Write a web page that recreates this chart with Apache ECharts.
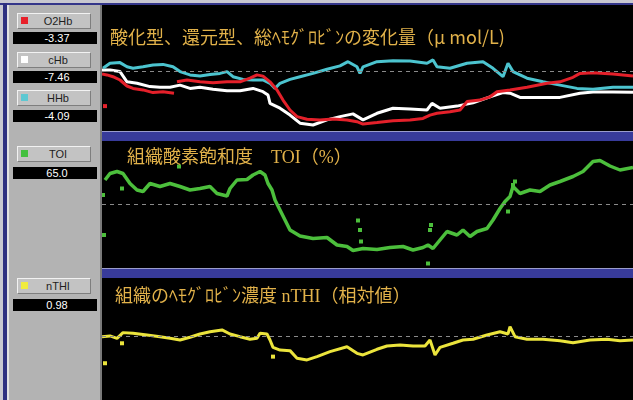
<!DOCTYPE html>
<html>
<head>
<meta charset="utf-8">
<script src="https://cdn.jsdelivr.net/npm/echarts@6/dist/echarts.min.js"></script>
<style>
body { margin: 0; width: 633px; height: 400px; overflow: hidden; position: relative; background: #c8c8d0; font-family: "Liberation Sans", Arial, sans-serif; }
#topline { position: absolute; left: 0; top: 3px; width: 633px; height: 2px; background: #34368a; }
#navy { position: absolute; left: 3px; top: 3px; width: 4px; height: 397px; background: #2e3080; }
#side { position: absolute; left: 7px; top: 5px; width: 95px; height: 395px; background: #b3b3b3; border-left: 2px solid #e2e2e2; border-right: 2px solid #7a7a7a; box-sizing: border-box; }
.btn { position: absolute; left: 17px; width: 74px; height: 16px; background: #c3c3c3; border-top: 1px solid #f2f2f2; border-left: 1px solid #f2f2f2; border-right: 1px solid #7e7e7e; border-bottom: 1px solid #7e7e7e; box-sizing: border-box; font-size: 11px; color: #1e1e1e; text-align: center; line-height: 14px; }
.btn i { position: absolute; left: 3px; top: 3px; width: 7px; height: 7px; }
.btn span { padding-left: 8px; }
.val { position: absolute; left: 13px; width: 84px; height: 12px; background: #000; color: #fff; font-size: 11px; text-align: center; line-height: 12px; padding-left: 4px; box-sizing: border-box; }
#chart { position: absolute; left: 102px; top: 5px; width: 531px; height: 395px; background: #000; }
</style>
</head>
<body>
<div id="topline"></div>
<div id="navy"></div>
<div id="side"></div>
<div class="btn" style="top:13px"><i style="background:#e8202a"></i><span>O2Hb</span></div>
<div class="val" style="top:32px">-3.37</div>
<div class="btn" style="top:52px"><i style="background:#ffffff"></i><span>cHb</span></div>
<div class="val" style="top:71px">-7.46</div>
<div class="btn" style="top:90px"><i style="background:#5ec8d2"></i><span>HHb</span></div>
<div class="val" style="top:110px">-4.09</div>
<div class="btn" style="top:146px"><i style="background:#44c040"></i><span>TOI</span></div>
<div class="val" style="top:167px">65.0</div>
<div class="btn" style="top:278px"><i style="background:#f0ec40"></i><span>nTHI</span></div>
<div class="val" style="top:299px">0.98</div>
<div id="chart"></div>
<script>
// time axis: samples 0..531
var hhbTime = [1, 8, 18, 25, 31, 41, 51, 61, 71, 78, 88, 98, 108, 118, 125, 131, 141, 151, 161, 168, 173, 178, 188, 198, 211, 225, 238, 246, 255, 258, 261, 275, 291, 308, 325, 331, 335, 348, 365, 381, 391, 401, 406, 411, 425, 441, 458, 475, 491, 511, 531];
var hhb = [0.9, 2.6, 2.8, 1.4, 0.9, 1.4, 2.0, 2.2, 1.4, -0.2, -1.3, -1.7, -1.2, -0.8, -0.2, -1.9, -2.8, -3.0, -3.0, -4.1, -5.8, -4.1, -2.8, -1.9, -0.8, 0.6, 1.7, 3.1, 1.4, -0.8, 1.4, 3.1, 3.4, 3.3, 2.6, 3.7, 1.4, 0.9, 2.6, 3.1, 0.9, -1.9, 2.6, -0.2, -2.4, -3.6, -4.7, -5.8, -6.1, -5.4, -5.4];

var o2hbTime = [0, 5, 11, 18, 25, 31, 41, 51, 61, 72, 73, 75, 85, 98, 111, 125, 138, 148, 155, 161, 168, 175, 181, 188, 195, 205, 218, 231, 245, 255, 261, 275, 291, 308, 321, 328, 335, 348, 358, 365, 378, 388, 395, 408, 425, 445, 458, 471, 478, 491, 511, 531];
var o2hb = [-1.0, -1.3, -1.9, -3.0, -5.0, -5.8, -6.3, -7.2, -6.9, -7.4, null, -3.6, -3.0, -3.6, -3.9, -3.6, -3.6, -2.4, -1.3, -1.7, -3.6, -6.3, -9.7, -13.0, -15.2, -16.1, -16.3, -16.0, -16.3, -16.9, -17.7, -17.2, -16.6, -16.3, -15.8, -14.7, -14.1, -13.6, -13.0, -10.2, -9.7, -8.6, -6.9, -6.3, -5.4, -4.1, -3.6, -2.1, -0.8, -0.6, -1.0, -1.7];
var o2hbDotTime = [3];
var o2hbDot = [-11.7];

var chbTime = [0, 8, 18, 25, 35, 48, 58, 68, 78, 88, 98, 111, 125, 138, 151, 161, 166, 168, 178, 188, 198, 211, 225, 238, 251, 261, 275, 291, 308, 325, 330, 338, 355, 371, 388, 401, 408, 418, 438, 458, 478, 491, 511, 531];
var chb = [0.3, 0.3, -0.2, -3.6, -4.1, -5.2, -5.4, -5.4, -4.7, -5.8, -5.4, -6.1, -6.6, -6.6, -5.8, -6.9, -8.0, -10.8, -12.4, -14.7, -17.4, -18.0, -16.3, -15.2, -14.3, -16.3, -14.1, -12.4, -12.7, -13.0, -10.8, -12.4, -11.7, -10.6, -8.6, -7.2, -7.4, -8.8, -8.8, -8.8, -7.4, -7.0, -7.0, -7.1];

var toiTime = [3, 8, 15, 21, 28, 35, 41, 48, 58, 68, 78, 88, 98, 108, 115, 125, 128, 135, 145, 151, 158, 163, 166, 170, 173, 178, 183, 188, 198, 211, 225, 235, 245, 251, 261, 275, 288, 301, 311, 321, 326, 331, 338, 345, 355, 361, 368, 375, 385, 391, 398, 403, 408, 411, 418, 428, 438, 448, 458, 471, 481, 491, 498, 508, 518, 531];
var toi = [64.8, 66.1, 66.5, 66.1, 64.1, 62.8, 62.5, 64.1, 63.5, 64.1, 63.5, 62.8, 63.1, 63.5, 62.1, 61.6, 63.1, 64.8, 64.9, 65.8, 66.5, 65.8, 64.1, 62.8, 60.8, 58.8, 56.8, 54.8, 53.6, 53.1, 53.3, 51.8, 51.5, 50.7, 51.1, 50.9, 51.3, 51.5, 50.8, 51.3, 51.8, 51.1, 52.8, 54.5, 53.8, 54.8, 53.5, 54.5, 55.1, 56.8, 59.1, 60.5, 61.5, 63.5, 62.1, 62.8, 62.5, 63.8, 64.5, 65.5, 66.5, 68.5, 68.7, 67.6, 66.8, 67.3];
var toiDotTime = [1, 2, 20, 77, 256, 258, 259, 326, 328, 329, 406, 411, 413];
var toiDot = [61.8, 53.8, 63.1, 67.5, 56.7, 54.8, 52.5, 48.1, 54.8, 55.8, 58.5, 63.8, 64.5];

var nthiTime = [0, 8, 15, 21, 31, 45, 58, 68, 78, 88, 98, 108, 120, 128, 138, 148, 155, 158, 165, 168, 171, 178, 188, 195, 205, 215, 228, 245, 255, 261, 275, 285, 298, 311, 323, 328, 333, 338, 351, 361, 371, 385, 398, 406, 408, 413, 425, 441, 458, 471, 488, 505, 518, 531];
var nthi = [1.000, 1.005, 0.989, 1.027, 1.023, 1.011, 1.000, 0.989, 0.978, 0.996, 1.018, 1.033, 1.045, 1.018, 1.000, 0.983, 0.989, 1.023, 1.018, 0.978, 0.929, 0.911, 0.907, 0.856, 0.845, 0.867, 0.900, 0.933, 0.889, 0.878, 0.916, 0.938, 0.945, 0.938, 0.938, 0.978, 0.878, 0.929, 0.956, 0.978, 0.983, 1.011, 1.033, 1.018, 1.067, 1.000, 0.983, 0.983, 0.973, 0.960, 0.978, 0.983, 0.973, 0.978];
var nthiDotTime = [3, 20, 171];
var nthiDot = [0.823, 0.956, 0.867];

var baseLines = [0, 60, 1.0];

function zip(t, v) {
    return t.map(function (x, i) {
        return [x, v[i] === null ? '-' : v[i]];
    });
}

function lineSerie(idx, data, color, width) {
    return {
        type: 'line',
        xAxisIndex: idx,
        yAxisIndex: idx,
        data: data,
        showSymbol: false,
        connectNulls: false,
        lineStyle: {color: color, width: width},
        z: 3
    };
}

function dotSerie(idx, data, color) {
    return {
        type: 'scatter',
        xAxisIndex: idx,
        yAxisIndex: idx,
        data: data,
        symbol: 'rect',
        symbolSize: 4,
        itemStyle: {color: color, opacity: 1},
        z: 3
    };
}

function baseLine(idx) {
    return {
        type: 'line',
        xAxisIndex: idx,
        yAxisIndex: idx,
        data: [],
        markLine: {
            silent: true,
            symbol: 'none',
            label: {show: false},
            lineStyle: {color: '#8a8a8a', type: [4, 4], width: 1},
            data: [{yAxis: baseLines[idx]}]
        },
        z: 2
    };
}

var titleStyle = {color: '#e2b24a', fontSize: 18, fontWeight: 'normal'};
var serifFont = '"Liberation Serif", "Noto Sans CJK JP", serif';

var chart = echarts.init(document.getElementById('chart'));
chart.setOption({
    animation: false,
    backgroundColor: '#000',
    title: [
        {text: '酸化型、還元型、総ﾍﾓｸﾞﾛﾋﾞﾝの変化量（μ mol/L)', left: 8, top: 23, padding: 0,
            textStyle: Object.assign({fontFamily: '"Noto Sans CJK JP", sans-serif'}, titleStyle)},
        {text: '組織酸素飽和度　TOI（%）', left: 25, top: 144, padding: 0,
            textStyle: Object.assign({fontFamily: serifFont}, titleStyle)},
        {text: '組織のﾍﾓｸﾞﾛﾋﾞﾝ濃度 nTHI（相対値）', left: 13, top: 283, padding: 0,
            textStyle: Object.assign({fontFamily: serifFont}, titleStyle)}
    ],
    grid: [
        {left: 0, right: 0, top: 0, height: 126},
        {left: 0, right: 0, top: 136, height: 127},
        {left: 0, right: 0, top: 273, height: 122}
    ],
    xAxis: [0, 1, 2].map(function (i) {
        return {type: 'value', gridIndex: i, min: 0, max: 531, show: false};
    }),
    yAxis: [
        {type: 'value', gridIndex: 0, min: -20, max: 22, show: false},
        {type: 'value', gridIndex: 1, min: 47.2, max: 72.6, show: false},
        {type: 'value', gridIndex: 2, min: 0.578, max: 1.391, show: false}
    ],
    graphic: [
        {type: 'rect', shape: {x: 0, y: 126, width: 531, height: 10}, style: {fill: '#383b9a'}},
        {type: 'rect', shape: {x: 0, y: 126, width: 531, height: 1}, style: {fill: '#9a9ccc'}},
        {type: 'rect', shape: {x: 0, y: 263, width: 531, height: 10}, style: {fill: '#383b9a'}},
        {type: 'rect', shape: {x: 0, y: 263, width: 531, height: 1}, style: {fill: '#9a9ccc'}}
    ],
    series: [
        baseLine(0),
        lineSerie(0, zip(chbTime, chb), '#ffffff', 3),
        lineSerie(0, zip(hhbTime, hhb), '#4cc4cf', 3),
        lineSerie(0, zip(o2hbTime, o2hb), '#e4202a', 3),
        dotSerie(0, zip(o2hbDotTime, o2hbDot), '#e4202a'),
        baseLine(1),
        lineSerie(1, zip(toiTime, toi), '#4cbf3c', 3.5),
        dotSerie(1, zip(toiDotTime, toiDot), '#4cbf3c'),
        baseLine(2),
        lineSerie(2, zip(nthiTime, nthi), '#ebe43c', 3),
        dotSerie(2, zip(nthiDotTime, nthiDot), '#ebe43c')
    ]
});
</script>
</body>
</html>
